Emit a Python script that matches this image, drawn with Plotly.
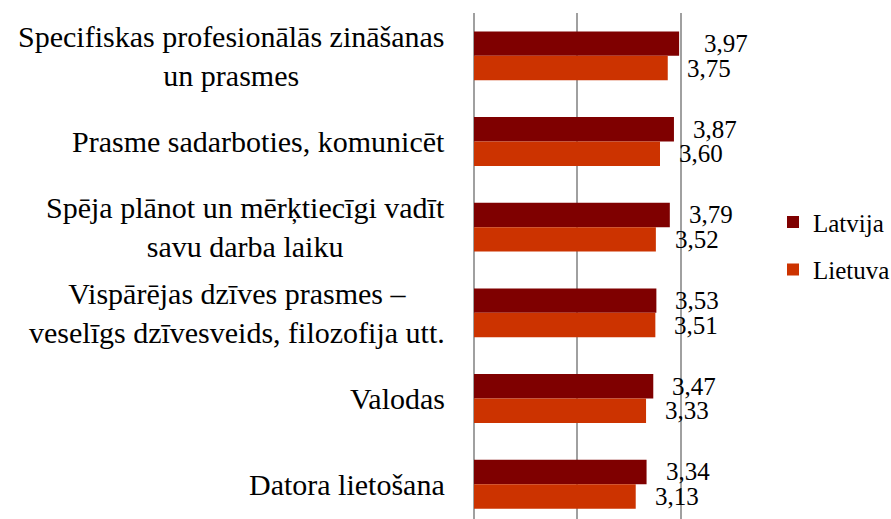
import plotly.graph_objects as go

categories = [
    "Specifiskas profesionālās zināšanas <br>un prasmes",
    "Prasme sadarboties, komunicēt",
    "Spēja plānot un mērķtiecīgi vadīt <br>savu darba laiku",
    "Vispārējas dzīves prasmes – <br>veselīgs dzīvesveids, filozofija utt.",
    "Valodas ",
    "Datora lietošana",
]
latvija = [3.97, 3.87, 3.79, 3.53, 3.47, 3.34]
lietuva = [3.75, 3.60, 3.52, 3.51, 3.33, 3.13]
series_names = ["Latvija", "Lietuva"]
colors = ["#7f0000", "#cc3300"]

FONT = '"Liberation Serif", "Times New Roman", serif'
FS_CAT = 30
FS_VAL = 25
FS_LEG = 25

fig = go.Figure()
for name, vals, col, grp in zip(series_names, [latvija, lietuva], colors, ["a", "b"]):
    fig.add_trace(go.Bar(
        y=categories, x=vals, name=name, orientation="h",
        marker=dict(color=col, line=dict(width=0)),
        legendgroup=grp,
    ))

annotations = []
for vals, ysh in zip([latvija, lietuva], [12.3, -12.3]):
    for c, v in zip(categories, vals):
        xs = 23 if v >= 3.95 else 17
        annotations.append(dict(
            x=v, y=c, xref="x", yref="y", text=f"{v:.2f}".replace(".", ","),
            showarrow=False, xanchor="left", yanchor="middle",
            xshift=xs, yshift=ysh, font=dict(family=FONT, size=FS_VAL, color="#000"),
        ))
for c in categories:
    annotations.append(dict(
        x=0, y=c, xref="x", yref="y", text=c.replace(" <br>", "<br>").rstrip(),
        showarrow=False, xanchor="right", yanchor="middle", align="center",
        xshift=-27, font=dict(family=FONT, size=FS_CAT, color="#000"),
    ))

W, H = 891, 519
ML, MT = 474, 13
plot_w = W - ML
x_dom_end = (784 - ML) / plot_w

fig.update_layout(
    width=W, height=H,
    margin=dict(l=ML, r=0, t=MT, b=0, pad=0, autoexpand=False),
    paper_bgcolor="white", plot_bgcolor="white",
    barmode="group", bargap=0.43, bargroupgap=0,
    font=dict(family=FONT, size=FS_VAL, color="#000"),
    annotations=annotations,
    legend=dict(
        x=(773 - ML) / plot_w, xanchor="left", y=0.54, yanchor="middle",
        font=dict(family=FONT, size=FS_LEG, color="#000"),
        tracegroupgap=12, bgcolor="rgba(0,0,0,0)",
    ),
    xaxis=dict(
        domain=[0, x_dom_end],
        range=[0, 6], dtick=2, showticklabels=False,
        showgrid=True, gridcolor="#a0a0a0", gridwidth=1.5,
        zeroline=True, zerolinecolor="#a0a0a0", zerolinewidth=1.5,
        showline=False, fixedrange=True,
    ),
    yaxis=dict(
        categoryorder="array", categoryarray=categories,
        range=[5.406, -0.5], showticklabels=False, showgrid=False,
        zeroline=False, showline=False, ticks="",
    ),
)

fig.write_html(
    "out.html",
    config={"displayModeBar": False},
    post_script="document.body.style.margin='0';document.body.style.padding='0';",
)
